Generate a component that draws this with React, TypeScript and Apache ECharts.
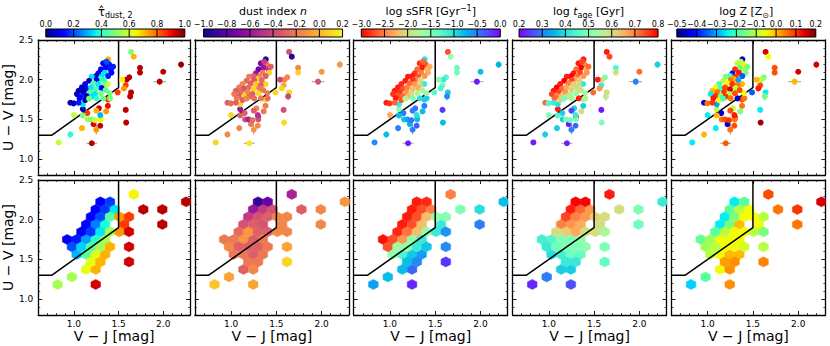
import React, { useEffect, useRef } from "react";
import * as echarts from "echarts";

// ---------------- data ----------------
const xRange = [0.6, 2.3];
const yRange = [0.8, 2.5];

// UVJ selection boundary
const boundaryX = [0.6, 0.75, 1.5, 1.5];
const boundaryY = [1.3, 1.3, 1.9, 2.5];

// individual galaxies (top row)
const ptX = [
  1.64, 1.67, 1.74, 1.74, 2.2, 2.0, 1.96, 1.62, 1.59, 1.54, 1.58, 1.56, 1.49, 1.64, 1.63, 1.58, 1.585,
  1.38, 1.38, 1.36, 1.28, 1.25, 1.3, 1.295, 1.25, 1.22, 1.2, 1.15, 1.1, 1.1, 1.155, 1.19, 1.235, 1.3, 1.0, 1.09, 0.96, 0.83, 1.295, 1.405, 1.4, 1.38, 1.33, 1.1,
  1.383, 1.328, 1.394, 1.357, 1.302, 1.412, 1.346, 1.42, 1.273, 1.247, 1.31, 1.383, 1.291, 1.339, 1.254, 1.199, 1.17, 1.126, 1.218, 1.273,
  1.328, 1.089, 1.144, 1.192, 1.247, 1.31, 1.052, 1.107, 1.181, 1.236, 1.302, 1.034, 1.089, 1.144, 1.199, 1.063, 1.126, 1.17, 0.96, 0.997,
  1.052, 1.254, 1.354, 1.365, 1.438,
];
const ptY = [
  2.35, 2.29, 2.15, 2.09, 2.19, 2.1, 1.975, 2.03, 2.0, 2.0, 1.93, 1.89, 1.84, 1.84, 1.79, 1.62, 1.46,
  1.75, 1.67, 1.6, 1.64, 1.61, 1.53, 1.42, 1.37, 1.44, 1.2, 1.58, 1.63, 1.55, 1.5, 1.5, 1.49, 1.5, 1.555, 1.39, 1.31, 1.21, 1.555, 1.765, 1.83, 1.945, 1.765, 1.69,
  2.256, 2.206, 2.193, 2.151, 2.13, 2.13, 2.088, 2.088, 2.08, 2.046, 2.038, 2.046, 2.004, 1.996, 1.996, 2.038, 1.987, 1.945, 1.954, 1.945,
  1.933, 1.903, 1.887, 1.903, 1.878, 1.895, 1.861, 1.845, 1.845, 1.819, 1.828, 1.819, 1.798, 1.794, 1.786, 1.765, 1.744, 1.761, 1.71, 1.702,
  1.71, 1.765, 1.87, 2.227, 2.164,
];
const ptTau = [
  0.5, 0.72, 0.95, 0.95, 0.98, 0.95, 0.95, 0.95, 0.95, 0.65, 0.85, 0.75, 0.85, 0.95, 0.95, 0.95, 0.95,
  0.85, 0.9, 0.75, 0.92, 0.72, 0.58, 0.95, 0.75, 0.92, 0.95, 0.85, 0.05, 0.5, 0.55, 0.5, 0.6, 0.65, 0.58, 0.72, 0.4, 0.58, 0.3, 0.5, 0.5, 0.6, 0.48, 0.35,
  0.72, 0.1, 0.15, 0.12, 0.1, 0.15, 0.35, 0.12, 0.1, 0.05, 0.35, 0.15, 0.45, 0.4, 0.12, 0.35, 0.05, 0.1, 0.45, 0.35,
  0.5, 0.05, 0.1, 0.35, 0.45, 0.12, 0.05, 0.05, 0.45, 0.35, 0.5, 0.05, 0.15, 0.05, 0.35, 0.12, 0.05, 0.5, 0.05, 0.05,
  0.15, 0.4, 0.45, 0.2, 0.15,
];
const ptDustN = [
  -0.35, -0.95, -0.15, 0.1, -0.1, -0.1, -0.35, -0.15, -0.15, -0.4, -0.05, 0.1, 0.1, 0.1, -0.4, -0.35, 0.12,
  0.1, -0.2, -0.2, -0.15, -0.3, -0.5, -0.15, -0.1, -0.2, 0.15, -0.3, -0.6, -0.3, -0.35, -0.55, -0.25, -0.35, 0.1, -0.15, -0.15, 0.1, -0.5, -0.25, -0.2, 0.1, -0.2, 0.1,
  -0.95, -0.7, -0.2, -0.6, -0.75, -0.5, -0.2, 0.1, -0.6, -0.3, -0.15, -0.3, 0.1, -0.25, -0.35, -0.2, -0.25, -0.15, -0.3, 0.05,
  -0.3, -0.2, -0.35, -0.25, 0.1, -0.2, -0.3, -0.25, -0.15, -0.3, 0.1, -0.2, -0.3, 0.1, -0.25, -0.2, -0.3, -0.15, -0.3, -0.25,
  -0.3, -0.25, -0.2, -0.45, -0.3,
];
const ptSSFR = [
  -2.7, -1.6, -1.4, -1.4, -0.75, -0.8, -0.1, -1.3, -1.1, -1.5, -1.4, -1.2, -1.3, -0.9, -0.55, -0.2, -0.8,
  -0.9, -0.5, -0.8, -0.45, -0.5, -1.2, -0.35, -0.5, -0.75, -0.1, -0.5, -1.6, -0.8, -0.85, -0.7, -0.45, -0.8, -2.3, -0.5, -0.8, -0.55, -1.0, -0.9, -1.6, -1.1, -1.0, -1.1,
  -1.0, -2.8, -2.7, -2.9, -2.6, -2.2, -2.5, -2.3, -2.8, -2.9, -2.7, -2.4, -2.5, -2.0, -2.8, -2.9, -2.9, -2.85, -2.6, -2.4,
  -2.1, -2.9, -2.7, -2.5, -2.2, -2.3, -2.9, -2.8, -2.4, -2.0, -1.8, -2.8, -2.7, -2.6, -2.2, -2.9, -2.7, -1.8, -2.9, -2.8,
  -2.6, -1.5, -1.8, -2.6, -2.3,
];
const ptAge = [
  0.78, 0.75, 0.45, 0.6, 0.38, 0.72, 0.3, 0.5, 0.6, 0.78, 0.42, 0.68, 0.72, 0.6, 0.58, 0.22, 0.5,
  0.55, 0.38, 0.6, 0.38, 0.25, 0.78, 0.28, 0.3, 0.22, 0.22, 0.38, 0.78, 0.45, 0.38, 0.5, 0.48, 0.5, 0.5, 0.38, 0.38, 0.22, 0.42, 0.55, 0.55, 0.42, 0.78, 0.4,
  0.78, 0.78, 0.7, 0.8, 0.72, 0.65, 0.75, 0.68, 0.78, 0.8, 0.72, 0.68, 0.66, 0.62, 0.75, 0.78, 0.8, 0.78, 0.7, 0.62,
  0.6, 0.8, 0.72, 0.66, 0.62, 0.6, 0.78, 0.75, 0.68, 0.55, 0.52, 0.75, 0.7, 0.62, 0.58, 0.72, 0.62, 0.48, 0.72, 0.45,
  0.42, 0.55, 0.6, 0.75, 0.72,
];
const ptLogZ = [
  0.15, -0.05, 0.08, 0.08, 0.15, 0.15, 0.0, -0.15, -0.1, 0.0, 0.08, 0.12, -0.35, -0.25, -0.15, -0.25, 0.18,
  0.08, 0.05, -0.15, -0.1, 0.08, 0.15, 0.08, 0.05, -0.45, 0.07, -0.45, -0.1, 0.0, 0.05, 0.08, 0.1, 0.05, -0.25, -0.25, 0.0, -0.25, 0.12, 0.05, -0.05, 0.0, -0.45, -0.3,
  -0.45, -0.1, -0.05, -0.15, 0.1, -0.1, 0.12, -0.15, -0.4, -0.2, 0.1, -0.35, 0.0, -0.3, 0.05, -0.15, -0.1, -0.2, -0.05, 0.1,
  0.05, -0.05, -0.2, 0.08, 0.15, -0.1, 0.0, 0.05, 0.1, -0.1, 0.08, -0.25, 0.1, -0.15, 0.1, 0.12, -0.05, -0.2, -0.45, 0.05,
  0.1, 0.05, 0.08, -0.1, -0.15,
];
// error bars (only the first points carry visible ones)
const ptErrX = [
  0, 0, 0, 0, 0, 0, 0.07, 0, 0, 0, 0, 0, 0, 0, 0.03, 0, 0,
  0, 0, 0, 0, 0, 0, 0, 0.03, 0, 0.06, 0, 0, 0, 0, 0, 0, 0, 0, 0, 0, 0, 0, 0, 0, 0, 0, 0,
];
const ptErrY = [
  0.03, 0.03, 0.03, 0.02, 0.04, 0, 0.04, 0, 0, 0, 0, 0, 0, 0.03, 0.05, 0, 0.03,
  0.02, 0.02, 0.03, 0.02, 0.03, 0.03, 0.03, 0.06, 0.02, 0.03, 0.02, 0, 0.03, 0.02, 0.02, 0.03, 0.02, 0, 0, 0.04, 0, 0, 0, 0, 0, 0, 0,
];

// hexagonal bins (bottom row)
const hexWidth = 0.1066;
const hexRowStep = 0.189;
const hexX = [
  1.67, 1.244, 1.35, 1.457, 1.777, 1.99, 1.137, 1.244, 1.35, 1.563, 1.99, 0.924, 1.03, 1.137, 1.244, 1.35, 1.03, 1.137, 1.244, 1.35, 1.137, 1.244, 0.817, 1.244,
  1.297, 1.404, 2.256, 1.19, 1.297, 1.404, 1.51, 1.617, 1.084, 1.19, 1.297, 1.404, 1.51, 1.617, 0.977, 1.084, 1.19, 1.297, 1.404, 1.617, 1.19, 1.297, 1.617, 0.977,
];
const hexY = [
  2.319, 2.13, 2.13, 2.13, 2.13, 2.13, 1.941, 1.941, 1.941, 1.941, 1.941, 1.752, 1.752, 1.752, 1.752, 1.752, 1.563, 1.563, 1.563, 1.563, 1.374, 1.374, 1.185, 1.185,
  2.225, 2.225, 2.225, 2.036, 2.036, 2.036, 2.036, 2.036, 1.847, 1.847, 1.847, 1.847, 1.847, 1.847, 1.658, 1.658, 1.658, 1.658, 1.658, 1.658, 1.469, 1.469, 1.469, 1.28,
];
const hexTau = [
  0.65, 0.12, 0.18, 0.35, 0.95, 0.95, 0.12, 0.25, 0.38, 0.85, 0.95, 0.1, 0.15, 0.28, 0.4, 0.55, 0.3, 0.45, 0.62, 0.72, 0.63, 0.72, 0.55, 0.93,
  0.12, 0.18, 0.95, 0.12, 0.2, 0.45, 0.75, 0.85, 0.1, 0.18, 0.35, 0.55, 0.75, 0.93, 0.2, 0.33, 0.45, 0.55, 0.72, 0.93, 0.63, 0.72, 0.93, 0.55,
];
const hexDustN = [
  -0.55, -0.6, -0.45, -0.35, -0.3, -0.15, -0.35, -0.3, -0.35, -0.15, -0.15, -0.2, -0.2, -0.1, -0.3, -0.2, -0.2, -0.2, -0.3, -0.2, -0.3, -0.15, 0.05, -0.05,
  -0.9, -0.75, -0.1, -0.45, -0.35, -0.3, -0.15, -0.15, -0.25, -0.1, -0.3, -0.3, -0.15, -0.15, -0.15, -0.3, -0.3, -0.3, -0.2, -0.05, -0.2, -0.2, 0.1, -0.05,
];
const hexSSFR = [
  -2.5, -2.9, -2.7, -2.5, -1.5, -1.0, -2.9, -2.7, -2.2, -1.1, -0.5, -2.95, -2.7, -2.4, -1.6, -1.1, -1.6, -1.2, -0.85, -0.65, -0.8, -0.4, -0.65, -0.15,
  -2.9, -2.85, -0.8, -2.9, -2.7, -2.2, -1.6, -1.55, -2.85, -2.55, -2.2, -1.6, -1.1, -0.6, -2.7, -1.7, -1.6, -1.1, -0.85, -0.55, -0.8, -0.55, -0.2, -0.8,
];
const hexAge = [
  0.78, 0.78, 0.72, 0.68, 0.6, 0.5, 0.7, 0.68, 0.66, 0.6, 0.48, 0.43, 0.45, 0.5, 0.5, 0.52, 0.4, 0.43, 0.48, 0.47, 0.38, 0.38, 0.23, 0.26,
  0.8, 0.8, 0.42, 0.75, 0.7, 0.68, 0.62, 0.6, 0.6, 0.62, 0.66, 0.6, 0.6, 0.55, 0.42, 0.48, 0.5, 0.5, 0.52, 0.5, 0.42, 0.42, 0.47, 0.3,
];
const hexLogZ = [
  0.08, -0.18, -0.1, -0.05, 0.05, 0.1, -0.25, -0.15, 0.0, -0.05, 0.05, -0.17, -0.12, -0.05, -0.05, -0.05, -0.1, -0.05, 0.0, 0.0, -0.05, 0.03, -0.27, 0.03,
  -0.25, -0.18, 0.15, -0.25, -0.15, -0.05, -0.05, -0.1, -0.18, -0.1, -0.05, -0.05, -0.1, -0.15, -0.12, -0.1, -0.05, -0.05, -0.08, -0.1, 0.02, 0.03, 0.04, -0.18,
];

// colour bars
const cbMin = [0.0, -1.0, -3.0, 0.2, -0.5];
const cbMax = [1.0, 0.2, 0.0, 0.8, 0.2];
const cbStep = [0.2, 0.2, 0.5, 0.1, 0.1];
const cbTitles = [
  "{t|\u03C4\u0302}{s|dust, 2}",
  "{n|dust index }{i|n}",
  "{n|log sSFR [Gyr}{p|\u22121}{n|]}",
  "{n|log }{i|t}{s|age}{n| [Gyr]}",
  "{n|log Z [Z}{s|\u2299}{n|]}",
];

// ---------------- colour maps ----------------
const clamp = (v: number) => Math.max(0, Math.min(1, v));
const toHex = (r: number, g: number, b: number) =>
  "rgb(" + Math.round(clamp(r) * 255) + "," + Math.round(clamp(g) * 255) + "," + Math.round(clamp(b) * 255) + ")";
function seg(pts: number[][], t: number) {
  for (let i = 1; i < pts.length; i++) {
    if (t <= pts[i][0]) {
      const [t0, v0] = pts[i - 1];
      const [t1, v1] = pts[i];
      return v0 + ((v1 - v0) * (t - t0)) / (t1 - t0);
    }
  }
  return pts[pts.length - 1][1];
}
const JR = [[0, 0], [0.35, 0], [0.66, 1], [0.89, 1], [1, 0.5]];
const JG = [[0, 0], [0.125, 0], [0.375, 1], [0.64, 1], [0.91, 0], [1, 0]];
const JB = [[0, 0.5], [0.11, 1], [0.34, 1], [0.65, 0], [1, 0]];
const jet = (t: number) => toHex(seg(JR, t), seg(JG, t), seg(JB, t));
const rainbow = (t: number) =>
  toHex(Math.abs(2 * t - 0.5), Math.sin(Math.PI * t), Math.cos((Math.PI * t) / 2));
const rainbowR = (t: number) => rainbow(1 - t);
const PL = ["#0d0887", "#41049d", "#6a00a8", "#8f0da4", "#b12a90", "#cc4778", "#e16462", "#f2844b", "#fca636", "#fcce25", "#f0f921"];
const plRGB = PL.map((h) => [parseInt(h.slice(1, 3), 16) / 255, parseInt(h.slice(3, 5), 16) / 255, parseInt(h.slice(5, 7), 16) / 255]);
const plasma = (t: number) => {
  const f = clamp(t) * 10;
  const i = Math.min(9, Math.floor(f));
  const u = f - i;
  const a = plRGB[i], b = plRGB[i + 1];
  return toHex(a[0] + (b[0] - a[0]) * u, a[1] + (b[1] - a[1]) * u, a[2] + (b[2] - a[2]) * u);
};
const cmaps = [jet, plasma, rainbowR, rainbow, jet];
const ptVals = [ptTau, ptDustN, ptSSFR, ptAge, ptLogZ];
const hexVals = [hexTau, hexDustN, hexSSFR, hexAge, hexLogZ];
const colorOf = (c: number, v: number) => cmaps[c](clamp((v - cbMin[c]) / (cbMax[c] - cbMin[c])));

// ---------------- layout ----------------
const FONT = "DejaVu Sans";
const L0 = 36;
const STEP = 158.85;
const W = 154;
const H = 135;
const TOPS = [40, 180];
const CB_C0 = 115.3;
const CB_STEP = 157.75;
const CB_W = 139;

const fmt1 = (v: number) => {
  if (Math.abs(v) < 1e-9) v = 0;
  return v.toFixed(1).replace("-", "\u2212");
};
const isMajor = (v: number) => Math.abs(v * 2 - Math.round(v * 2)) < 1e-6;

function frameAxis(gridIndex: number, dim: "x" | "y", position: string, showLabels: boolean, name?: string) {
  const range = dim === "x" ? xRange : yRange;
  const ax: any = {
    type: "value",
    gridIndex,
    position,
    min: range[0],
    max: range[1],
    splitNumber: 3,
    axisLine: { show: true, onZero: false, lineStyle: { color: "#000", width: 1.3 } },
    axisTick: { show: true, inside: true, length: 4, lineStyle: { color: "#000", width: 0.9 } },
    minorTick: { show: true, splitNumber: 5, length: 2, lineStyle: { color: "#000", width: 0.7 } },
    splitLine: { show: false },
    minorSplitLine: { show: false },
    axisLabel: {
      show: showLabels,
      fontSize: 9,
      color: "#000",
      fontFamily: FONT,
      margin: dim === "x" ? 4 : 5,
      formatter: (v: number) => (isMajor(v) ? v.toFixed(1) : ""),
    },
  };
  if (name) {
    ax.name = name;
    ax.nameLocation = "middle";
    ax.nameGap = dim === "x" ? 12 : 15;
    ax.nameTextStyle = { fontSize: 14, color: "#000", fontFamily: FONT };
  }
  return ax;
}

function buildOption() {
  const grid: any[] = [];
  const xAxis: any[] = [];
  const yAxis: any[] = [];
  const series: any[] = [];

  for (let r = 0; r < 2; r++) {
    for (let c = 0; c < 5; c++) {
      const g = r * 5 + c;
      grid.push({ left: L0 + STEP * c, top: TOPS[r], width: W, height: H });
      xAxis.push(frameAxis(g, "x", "bottom", r === 1, r === 1 ? "V \u2212 J [mag]" : undefined));
      xAxis.push(frameAxis(g, "x", "top", false));
      yAxis.push(frameAxis(g, "y", "left", c === 0, c === 0 ? "U \u2212 V [mag]" : undefined));
      yAxis.push(frameAxis(g, "y", "right", false));

      const axIdx = { xAxisIndex: 2 * g, yAxisIndex: 2 * g };
      const boundary = {
        type: "line",
        ...axIdx,
        data: boundaryX.map((x, i) => [x, boundaryY[i]]),
        symbol: "none",
        lineStyle: { color: "#000", width: 1.5 },
        silent: true,
        z: r === 0 ? 2 : 4,
      };
      if (r === 0) {
        series.push(boundary);
        series.push({
          type: "custom",
          ...axIdx,
          z: 2,
          silent: true,
          data: ptX.map((x, i) => [x, ptY[i], ptErrX[i] || 0, ptErrY[i] || 0]),
          renderItem: (params: any, api: any) => {
            const x = api.value(0), y = api.value(1), ex = api.value(2), ey = api.value(3);
            const children: any[] = [];
            const st = { stroke: "#9a9a9a", lineWidth: 1 };
            if (ex > 0) {
              const a = api.coord([x - ex, y]), b = api.coord([x + ex, y]);
              children.push({ type: "line", shape: { x1: a[0], y1: a[1], x2: b[0], y2: b[1] }, style: st });
            }
            if (ey > 0) {
              const a = api.coord([x, y - ey]), b = api.coord([x, y + ey]);
              children.push({ type: "line", shape: { x1: a[0], y1: a[1], x2: b[0], y2: b[1] }, style: st });
            }
            return { type: "group", children };
          },
        });
        series.push({
          type: "scatter",
          ...axIdx,
          z: 3,
          silent: true,
          symbolSize: 6,
          data: ptX.map((x, i) => ({
            value: [x, ptY[i], ptVals[c][i]],
            itemStyle: { color: colorOf(c, ptVals[c][i]), opacity: 1 },
          })),
        });
      } else {
        series.push({
          type: "custom",
          ...axIdx,
          z: 2,
          clip: true,
          silent: true,
          data: hexX.map((x, i) => [x, hexY[i], hexVals[c][i]]),
          renderItem: (params: any, api: any) => {
            const cx = api.value(0), cy = api.value(1), v = api.value(2);
            const offs = [[0.5, -0.5], [0.5, 0.5], [0, 1], [-0.5, 0.5], [-0.5, -0.5], [0, -1]];
            const points = offs.map((o) => api.coord([cx + o[0] * hexWidth, cy + (o[1] * hexRowStep) / 3]));
            const col = colorOf(c, v);
            return { type: "polygon", shape: { points }, style: { fill: col, stroke: col, lineWidth: 0.5 } };
          },
        });
        series.push(boundary);
      }
    }
  }

  // colour bars
  for (let c = 0; c < 5; c++) {
    const g = 10 + c;
    grid.push({ left: CB_C0 + CB_STEP * c - CB_W / 2, top: 29, width: CB_W, height: 8 });
    xAxis.push({
      type: "value",
      gridIndex: g,
      position: "top",
      min: cbMin[c],
      max: cbMax[c],
      interval: cbStep[c],
      axisLine: { show: false },
      axisTick: { show: false },
      splitLine: { show: false },
      axisLabel: {
        fontSize: 8,
        color: "#000",
        fontFamily: FONT,
        margin: 1,
        showMinLabel: true,
        showMaxLabel: true,
        hideOverlap: false,
        formatter: (v: number) => fmt1(v),
      },
      name: cbTitles[c],
      nameLocation: "middle",
      nameGap: 10,
      nameTextStyle: {
        color: "#000",
        fontFamily: FONT,
        rich: {
          n: { fontSize: 11, lineHeight: 15, fontFamily: FONT, color: "#000" },
          t: { fontSize: 11.5, lineHeight: 15, fontFamily: FONT, color: "#000" },
          i: { fontSize: 11, lineHeight: 15, fontFamily: FONT, fontStyle: "italic", color: "#000" },
          s: { fontSize: 8, lineHeight: 9, fontFamily: FONT, verticalAlign: "bottom", color: "#000" },
          p: { fontSize: 8, lineHeight: 9, fontFamily: FONT, verticalAlign: "top", color: "#000" },
        },
      },
    });
    yAxis.push({ type: "value", gridIndex: g, min: 0, max: 1, show: false });
    const stops: any[] = [];
    for (let k = 0; k <= 30; k++) stops.push({ offset: k / 30, color: cmaps[c](k / 30) });
    series.push({
      type: "custom",
      xAxisIndex: 20 + c,
      yAxisIndex: 20 + c,
      silent: true,
      data: [[cbMin[c], cbMax[c]]],
      renderItem: (params: any, api: any) => {
        const a = api.coord([api.value(0), 0]);
        const b = api.coord([api.value(1), 1]);
        return {
          type: "rect",
          shape: { x: a[0], y: b[1], width: b[0] - a[0], height: a[1] - b[1] },
          style: {
            fill: { type: "linear", x: 0, y: 0, x2: 1, y2: 0, colorStops: stops },
            stroke: "#000",
            lineWidth: 1,
          },
        };
      },
    });
    const ticks: number[] = [];
    const n = Math.round((cbMax[c] - cbMin[c]) / cbStep[c]);
    for (let k = 1; k < n; k++) ticks.push(cbMin[c] + k * cbStep[c]);
    series.push({
      type: "custom",
      xAxisIndex: 20 + c,
      yAxisIndex: 20 + c,
      silent: true,
      z: 3,
      data: ticks.map((t) => [t]),
      renderItem: (params: any, api: any) => {
        const a = api.coord([api.value(0), 0]);
        const b = api.coord([api.value(0), 1]);
        return { type: "line", shape: { x1: a[0], y1: a[1], x2: b[0], y2: b[1] }, style: { stroke: "#000", lineWidth: 1 } };
      },
    });
  }

  return {
    animation: false,
    backgroundColor: "#fff",
    textStyle: { fontFamily: FONT },
    grid,
    xAxis,
    yAxis,
    series,
  };
}

export default function App() {
  const ref = useRef<HTMLDivElement>(null);
  useEffect(() => {
    document.body.style.margin = "0";
    const chart = echarts.init(ref.current as HTMLDivElement, null, { renderer: "svg" });
    chart.setOption(buildOption() as any);
    return () => chart.dispose();
  }, []);
  return <div ref={ref} style={{ width: 830, height: 346 }} />;
}
